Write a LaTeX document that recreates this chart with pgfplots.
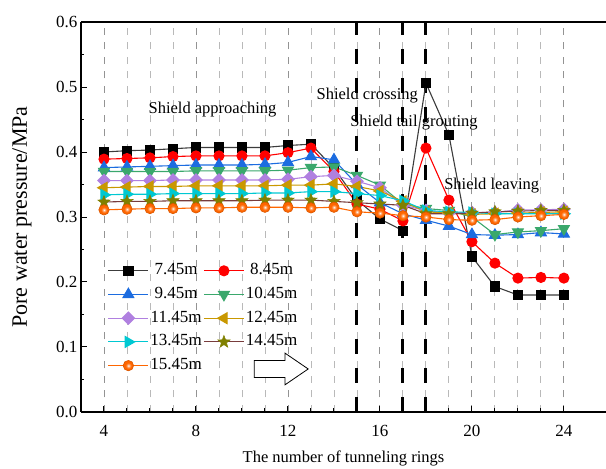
\documentclass[border=0pt]{standalone}
\usepackage{fontspec}
\setmainfont{Liberation Serif}
\usepackage{pgfplots}
\pgfplotsset{compat=1.18}

\definecolor{cLine}{RGB}{60,60,60}
\definecolor{cRed}{RGB}{255,0,0}
\definecolor{cBlue}{RGB}{28,108,224}
\definecolor{cGreen}{RGB}{58,168,108}
\definecolor{cPurple}{RGB}{176,128,224}
\definecolor{cGold}{RGB}{201,152,0}
\definecolor{cCyan}{RGB}{0,200,210}
\definecolor{cOlive}{RGB}{128,128,0}
\definecolor{cBrown}{RGB}{120,60,60}
\definecolor{cOrange}{RGB}{255,102,0}

% filled five-pointed star
\pgfdeclareplotmark{fstar}{%
  \pgfpathmoveto{\pgfqpointpolar{90}{\pgfplotmarksize}}%
  \pgfpathlineto{\pgfqpointpolar{126}{0.42\pgfplotmarksize}}%
  \pgfpathlineto{\pgfqpointpolar{162}{\pgfplotmarksize}}%
  \pgfpathlineto{\pgfqpointpolar{198}{0.42\pgfplotmarksize}}%
  \pgfpathlineto{\pgfqpointpolar{234}{\pgfplotmarksize}}%
  \pgfpathlineto{\pgfqpointpolar{270}{0.42\pgfplotmarksize}}%
  \pgfpathlineto{\pgfqpointpolar{306}{\pgfplotmarksize}}%
  \pgfpathlineto{\pgfqpointpolar{342}{0.42\pgfplotmarksize}}%
  \pgfpathlineto{\pgfqpointpolar{18}{\pgfplotmarksize}}%
  \pgfpathlineto{\pgfqpointpolar{54}{0.42\pgfplotmarksize}}%
  \pgfpathclose
  \pgfusepathqfillstroke}

% orange disc with a pale highlight in the middle
\pgfdeclareradialshading{oballshade}{\pgfpoint{0bp}{0bp}}{%
  color(0bp)=(white); color(5bp)=(cOrange!45!white); color(13bp)=(cOrange);
  color(25bp)=(cOrange); color(50bp)=(cOrange)}
\pgfdeclareplotmark{oball}{%
  \pgfpathcircle{\pgfpointorigin}{\pgfplotmarksize}%
  \pgfshadepath{oballshade}{0}%
  \pgfusepath{stroke}}

\pgfplotstableread{
ring  d745  d845  d945  d1045 d1145 d1245 d1345 d1445 d1545
4     0.400 0.389 0.376 0.370 0.356 0.345 0.334 0.323 0.311
5     0.402 0.390 0.377 0.370 0.356 0.346 0.335 0.324 0.312
6     0.403 0.391 0.378 0.370 0.356 0.347 0.335 0.324 0.313
7     0.405 0.393 0.379 0.370 0.357 0.347 0.336 0.325 0.313
8     0.407 0.394 0.380 0.371 0.357 0.348 0.336 0.325 0.314
9     0.407 0.394 0.380 0.371 0.357 0.348 0.336 0.325 0.314
10    0.407 0.394 0.380 0.371 0.357 0.348 0.336 0.325 0.315
11    0.407 0.394 0.381 0.371 0.357 0.348 0.337 0.326 0.315
12    0.410 0.399 0.384 0.372 0.358 0.349 0.337 0.326 0.315
13    0.412 0.406 0.393 0.376 0.362 0.349 0.339 0.326 0.314
14    0.375 0.370 0.388 0.377 0.364 0.351 0.339 0.324 0.315
15    0.326 0.320 0.350 0.364 0.355 0.347 0.336 0.322 0.308
16    0.297 0.312 0.322 0.349 0.345 0.340 0.333 0.320 0.306
17    0.279 0.294 0.305 0.320 0.318 0.324 0.325 0.318 0.302
18    0.506 0.406 0.295 0.313 0.310 0.308 0.310 0.305 0.300
19    0.426 0.326 0.286 0.310 0.306 0.306 0.308 0.305 0.296
20    0.239 0.262 0.273 0.300 0.307 0.304 0.307 0.306 0.295
21    0.193 0.229 0.272 0.273 0.307 0.305 0.305 0.308 0.296
22    0.180 0.206 0.273 0.277 0.311 0.306 0.305 0.309 0.300
23    0.180 0.207 0.276 0.279 0.311 0.307 0.305 0.310 0.302
24    0.180 0.206 0.274 0.282 0.312 0.308 0.305 0.310 0.304
}\pore

\begin{document}
\begin{tikzpicture}
\useasboundingbox (-81pt,-57pt) rectangle (525pt,412pt);
\begin{axis}[
  at={(0pt,0pt)}, anchor=south west,
  scale only axis, width=525pt, height=390pt,
  xmin=3, xmax=25.83, ymin=0, ymax=0.6,
  axis x line=box, axis y line=left,
  x axis line style={-, line width=1.3pt},
  y axis line style={-, line width=1.3pt},
  xtick={4,8,...,24}, minor x tick num=3,
  ytick={0,0.1,...,0.6}, minor y tick num=1,
  xtick pos=left, ytick pos=left,
  tick align=inside,
  major tick length=6pt, minor tick length=3.5pt,
  every tick/.style={black, line width=1pt},
  xmajorgrids, xminorgrids,
  major x grid style={gray!85, line width=0.9pt, dash pattern=on 7pt off 7.5pt},
  minor x grid style={gray!55, line width=0.9pt, dash pattern=on 7pt off 7.5pt},
  /pgf/number format/assume math mode=true,
  tick label style={font=\fontsize{17}{17}\selectfont},
  xticklabel style={yshift=-10pt},
  yticklabel style={/pgf/number format/fixed, /pgf/number format/fixed zerofill, /pgf/number format/precision=1},
  xlabel={The number of tunneling rings},
  ylabel={Pore water pressure/MPa},
  xlabel style={font=\fontsize{16.5}{16.5}\selectfont, at={(axis description cs:0.5,-0.12)}, anchor=center},
  ylabel style={font=\fontsize{22}{22}\selectfont, at={(axis description cs:-0.1124,0.5)}, anchor=center},
  every axis plot/.append style={line width=1.1pt},
  legend columns=2,
  legend style={at={(0.045,0.392)}, anchor=north west, draw=none, fill=none,
    font=\fontsize{17}{17}\selectfont, row sep=4.7pt,
    nodes={inner sep=1.5pt, text height=12pt, text depth=4pt}},
  legend image code/.code={\draw[mark repeat=2,mark phase=2,#1] plot coordinates {(0pt,0pt) (20pt,0pt) (40pt,0pt)};},
  /tikz/every even column/.append style={column sep=0pt},
]
% construction stages
\draw[black, line width=3pt, dash pattern=on 15pt off 14pt] (axis cs:15,0) -- (axis cs:15,0.6);
\draw[black, line width=3pt, dash pattern=on 15pt off 14pt] (axis cs:17,0) -- (axis cs:17,0.6);
\draw[black, line width=3pt, dash pattern=on 15pt off 14pt] (axis cs:18,0) -- (axis cs:18,0.6);

\addplot[cLine, mark=square*, mark size=4.6pt, mark options={fill=black, draw=black}] table[x=ring, y=d745] {\pore};
\addlegendentry{7.45m}
\addplot[cRed, mark=*, mark size=5pt, mark options={fill=cRed, draw=cRed}] table[x=ring, y=d845] {\pore};
\addlegendentry{8.45m}
\addplot[cBlue, mark=triangle*, mark size=6.2pt, mark options={fill=cBlue, draw=cBlue}] table[x=ring, y=d945] {\pore};
\addlegendentry{9.45m}
\addplot[cGreen, mark=triangle*, mark size=6.2pt, mark options={fill=cGreen, draw=cGreen, rotate=180}] table[x=ring, y=d1045] {\pore};
\addlegendentry{10.45m}
\addplot[cPurple, mark=square*, mark size=4.3pt, mark options={fill=cPurple, draw=cPurple, rotate=45}] table[x=ring, y=d1145] {\pore};
\addlegendentry{11.45m}
\addplot[cGold, mark=triangle*, mark size=6.2pt, mark options={fill=cGold, draw=cGold, rotate=90}] table[x=ring, y=d1245] {\pore};
\addlegendentry{12.45m}
\addplot[cCyan, mark=triangle*, mark size=6.2pt, mark options={fill=cCyan, draw=cCyan, rotate=-90}] table[x=ring, y=d1345] {\pore};
\addlegendentry{13.45m}
\addplot[cBrown, mark=fstar, mark size=6.5pt, mark options={fill=cOlive, draw=cOlive, line width=0.5pt}] table[x=ring, y=d1445] {\pore};
\addlegendentry{14.45m}
\addplot[cOrange, mark=oball, mark size=5.2pt, mark options={draw=cOrange!85!black, line width=0.6pt}] table[x=ring, y=d1545] {\pore};
\addlegendentry{15.45m}

% stage labels
\node[font=\fontsize{16.5}{16.5}\selectfont] at (axis cs:8.72,0.465) {Shield approaching};
\node[font=\fontsize{16.5}{16.5}\selectfont] at (axis cs:15.45,0.487) {Shield crossing};
\node[font=\fontsize{16.5}{16.5}\selectfont] at (axis cs:17.48,0.445) {Shield tail grouting};
\node[font=\fontsize{16.5}{16.5}\selectfont] at (axis cs:20.86,0.348) {Shield leaving};

% direction of advance
\draw[black, line width=0.8pt, fill=white]
  (axis cs:10.53,0.0531) -- (axis cs:11.87,0.0531) -- (axis cs:11.87,0.0418)
  -- (axis cs:12.88,0.0662) -- (axis cs:11.87,0.0906) -- (axis cs:11.87,0.0793)
  -- (axis cs:10.53,0.0793) -- cycle;
\end{axis}
\end{tikzpicture}
\end{document}
